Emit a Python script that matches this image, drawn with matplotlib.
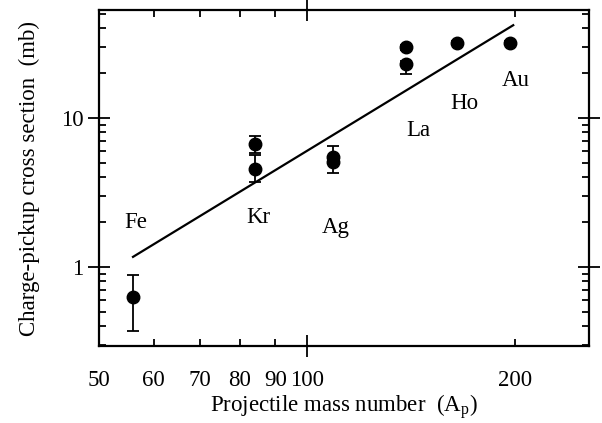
import numpy as np
import matplotlib.pyplot as plt
from matplotlib.ticker import FixedLocator, FixedFormatter, NullFormatter

plt.rcParams['font.family'] = 'Liberation Serif'
plt.rcParams['mathtext.fontset'] = 'custom'
plt.rcParams['mathtext.rm'] = 'Liberation Serif'
plt.rcParams['mathtext.it'] = 'Liberation Serif'

# Data
mass_number = [56, 84, 84, 109, 109, 139, 139, 165, 197]
sigma = [0.626, 6.69, 4.57, 5.5, 5.05, 29.8, 22.9, 32.0, 32.0]
sigma_lo = [0.374, 5.79, 3.74, 4.9, 4.25, 28.5, 19.9, 31.0, 31.0]
sigma_hi = [0.884, 7.57, 5.67, 6.45, 5.6, 31.0, 24.3, 33.0, 33.0]

fit_A = [56, 199]
fit_sigma = [1.17, 42.0]

elements = ['Fe', 'Kr', 'Ag', 'La', 'Ho', 'Au']
label_A = [56.5, 85, 110, 145, 169, 201]
label_sigma = [2.0, 2.15, 1.85, 8.3, 12.6, 18.0]

x_minor = [50, 60, 70, 80, 90, 200]
x_major = [100]

fs = 16.5

fig = plt.figure(figsize=(6.02, 4.23), dpi=100)
ax = fig.add_axes([0.1645, 0.182, 0.8135, 0.794])

sigma = np.array(sigma)
yerr = [sigma - np.array(sigma_lo), np.array(sigma_hi) - sigma]
ax.errorbar(mass_number, sigma, yerr=yerr, fmt='o', color='black', ms=9,
            ecolor='black', elinewidth=1.3, capsize=4.5, capthick=1.3)
ax.plot(fit_A, fit_sigma, color='black', lw=1.6)

for name, a, s in zip(elements, label_A, label_sigma):
    ax.text(a, s, name, fontsize=fs, ha='center', va='center')

ax.set_xscale('log')
ax.set_yscale('log')
ax.set_xlim(50, 256)
ax.set_ylim(0.295, 53)

ax.xaxis.set_major_locator(FixedLocator(x_major))
ax.xaxis.set_major_formatter(FixedFormatter([str(v) for v in x_major]))
ax.xaxis.set_minor_locator(FixedLocator(x_minor))
ax.xaxis.set_minor_formatter(FixedFormatter([str(v) for v in x_minor]))

ax.yaxis.set_major_locator(FixedLocator([1, 10]))
ax.yaxis.set_major_formatter(FixedFormatter(['1', '10']))
y_minor = [m * d for d in (0.1, 1, 10) for m in range(2, 10)]
ax.yaxis.set_minor_locator(FixedLocator(y_minor))
ax.yaxis.set_minor_formatter(NullFormatter())

ax.tick_params(which='major', direction='inout', length=16, width=1.3,
               top=True, right=True, labelsize=fs)
ax.tick_params(axis='x', which='major', pad=9)
ax.tick_params(axis='y', which='major', pad=3)
ax.tick_params(which='minor', direction='in', length=5, width=1.3,
               top=True, right=True, labelsize=fs)
ax.tick_params(axis='x', which='minor', pad=17)

for sp in ax.spines.values():
    sp.set_linewidth(1.6)

ax.set_xlabel(r'Projectile mass number  (A$_\mathrm{p}$)', fontsize=fs, labelpad=1)
ax.set_ylabel('Charge-pickup cross section  (mb)', fontsize=fs, labelpad=15)

fig.savefig('out.png', dpi=100)
